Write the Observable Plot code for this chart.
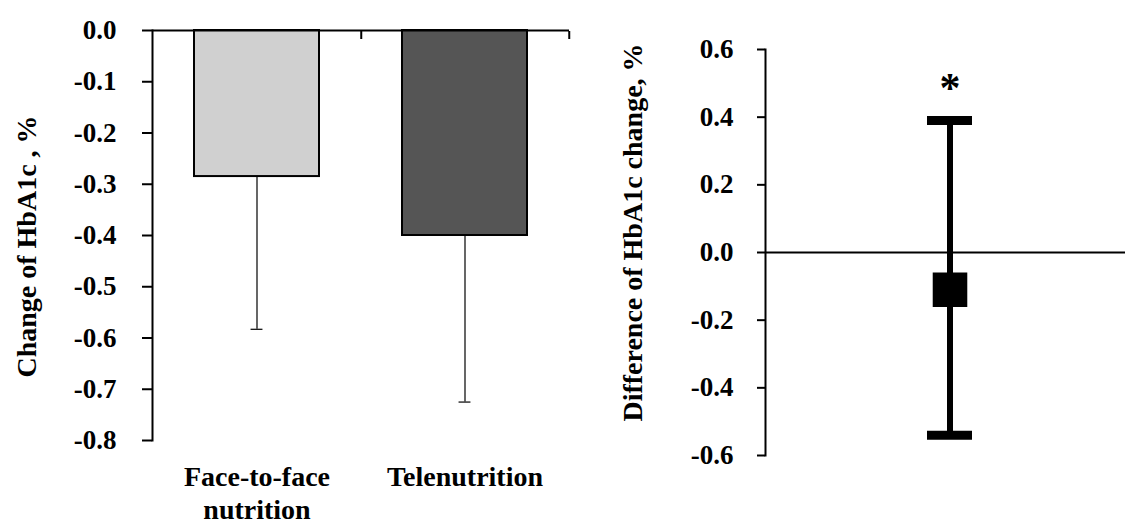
<!DOCTYPE html>
<html><head><meta charset="utf-8">
<script src="https://cdn.jsdelivr.net/npm/d3@7"></script>
<script src="https://cdn.jsdelivr.net/npm/@observablehq/plot@0.6"></script>
<style>
body{margin:0;background:#fff}
#wrap{position:relative;width:1125px;height:524px;overflow:hidden;background:#fff}
#left{position:absolute;left:0;top:0}
#right{position:absolute;left:600px;top:0}
svg{font-family:"Liberation Serif",serif;font-weight:bold;color:#000;overflow:visible}
</style></head><body>
<div id="wrap"><div id="left"></div><div id="right"></div></div>
<script>
// Left panel data
const groups = ["Face-to-face nutrition", "Telenutrition"];
const groupLabels = ["Face-to-face\nnutrition", "Telenutrition"];
const meanChange = [-0.285, -0.40];
const errLow = [-0.583, -0.725];
const groupFill = ["#d0d0d0", "#555555"];
const leftTicks = [0, -0.1, -0.2, -0.3, -0.4, -0.5, -0.6, -0.7, -0.8];
const leftTitle = "Change of HbA1c , %";

// Right panel data
const diffCategory = ["Difference"];
const diffEstimate = [-0.11];
const diffLow = [-0.54];
const diffHigh = [0.39];
const diffMark = ["*"];
const rightTicks = [0.6, 0.4, 0.2, 0, -0.2, -0.4, -0.6];
const rightTitle = "Difference of HbA1c change, %";

const fmt = d => d.toFixed(1);
const tickFont = 27;
const labelFont = 28;
const titleFont = 28;

const leftData = groups.map((g, i) => ({group: g, label: groupLabels[i], mean: meanChange[i], low: errLow[i], fill: groupFill[i]}));
const labelOf = new Map(leftData.map(d => [d.group, d.label]));

const LW = 600, LH = 524, LML = 152, LMR = 31, LMT = 30, LMB = 84;
const pInner = 0.4, pOuter = 0.2;
const step = (LW - LML - LMR) / (groups.length - pInner + 2 * pOuter);
const bw = step * (1 - pInner);
const capW = 12;

const left = Plot.plot({
  width: LW, height: LH,
  marginLeft: LML, marginRight: LMR, marginTop: LMT, marginBottom: LMB,
  style: {fontFamily: "Liberation Serif", fontWeight: "bold", fontSize: tickFont + "px", background: "#fff", overflow: "visible"},
  x: {type: "band", domain: groups, paddingInner: pInner, paddingOuter: pOuter, axis: null},
  y: {domain: [-0.8, 0], axis: null},
  color: {type: "identity"},
  marks: [
    Plot.ruleX(leftData, {x: "group", y1: "mean", y2: "low", stroke: "#000", strokeWidth: 1.2}),
    Plot.tickY(leftData, {x: "group", y: "low", stroke: "#000", strokeWidth: 1.2, insetLeft: (bw - capW) / 2, insetRight: (bw - capW) / 2}),
    Plot.barY(leftData, {x: "group", y: "mean", fill: "fill", stroke: "#000", strokeWidth: 2}),
    Plot.axisY({ticks: leftTicks, tickSize: 10, tickPadding: 26, tickFormat: fmt, fontSize: tickFont, strokeWidth: 2, label: null}),
    Plot.frame({anchor: "left", strokeWidth: 2}),
    Plot.ruleY([0], {strokeWidth: 2}),
    Plot.axisX({anchor: "top", tickSize: -8, tickFormat: () => "", dx: step / 2, strokeWidth: 2, label: null}),
    Plot.axisX({anchor: "bottom", tickSize: 0, tickPadding: 22, tickFormat: g => labelOf.get(g), fontSize: labelFont, lineHeight: 1.18, label: null}),
    Plot.text([leftTitle], {frameAnchor: "left", textAnchor: "middle", dx: -125, dy: 11, rotate: -90, fontSize: titleFont, fill: "#000"})
  ]
});
document.getElementById("left").append(left);

const rightData = diffCategory.map((c, i) => ({cat: c, est: diffEstimate[i], low: diffLow[i], high: diffHigh[i], mark: diffMark[i]}));
const RW = 525, RH = 524, RML = 165, RMR = 0, RMT = 49, RMB = 69;

const right = Plot.plot({
  width: RW, height: RH,
  marginLeft: RML, marginRight: RMR, marginTop: RMT, marginBottom: RMB,
  style: {fontFamily: "Liberation Serif", fontWeight: "bold", fontSize: tickFont + "px", background: "#fff"},
  x: {type: "band", domain: diffCategory, padding: 0.7778, align: 0.514, axis: null},
  y: {domain: [-0.6, 0.6], axis: null},
  marks: [
    Plot.ruleY([0], {strokeWidth: 2}),
    Plot.frame({anchor: "left", strokeWidth: 2}),
    Plot.axisY({ticks: rightTicks, tickSize: 8, tickPadding: 24, tickFormat: fmt, fontSize: tickFont, strokeWidth: 2, label: null}),
    Plot.ruleX(rightData, {x: "cat", y1: "low", y2: "high", stroke: "#000", strokeWidth: 6}),
    Plot.tickY(rightData, {x: "cat", y: "low", stroke: "#000", strokeWidth: 9}),
    Plot.tickY(rightData, {x: "cat", y: "high", stroke: "#000", strokeWidth: 9}),
    Plot.dot(rightData, {x: "cat", y: "est", symbol: "square", r: 19.5, fill: "#000", stroke: null}),
    Plot.text(rightData, {x: "cat", y: "high", text: "mark", dy: -32, fontSize: 42, fontWeight: "bold", fill: "#000"}),
    Plot.text([rightTitle], {frameAnchor: "left", textAnchor: "middle", dx: -132, dy: -20, rotate: -90, fontSize: titleFont, fill: "#000"})
  ]
});
document.getElementById("right").append(right);
</script>
</body></html>
